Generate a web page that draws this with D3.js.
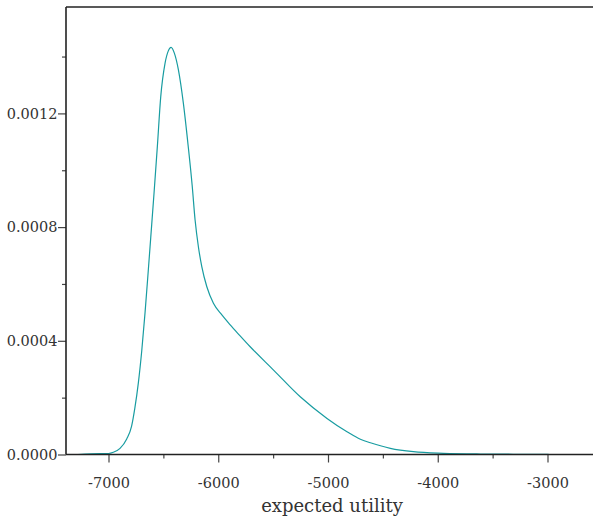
<!DOCTYPE html>
<html><head><meta charset="utf-8">
<script src="https://cdn.jsdelivr.net/npm/d3@7/dist/d3.min.js"></script>
<style>
html,body{margin:0;padding:0;background:#fff;}
text{font-family:"DejaVu Serif",serif;fill:#333;}
</style></head>
<body>
<svg id="c" width="593" height="520"></svg>
<script>
const utility = [-7278,-7078,-7000,-6956,-6895,-6834,-6790,-6760,-6728,-6697,-6667,-6637,-6615,-6585,-6555,-6524,-6485,-6455,-6430,-6400,-6363,-6318,-6275,-6238,-6211,-6181,-6150,-6104,-6044,-5967,-5891,-5807,-5709,-5496,-5253,-5009,-4827,-4705,-4614,-4432,-4222,-3948,-3611,-2990];
const density = [0,0.000003,0.0000035,0.0000077,0.0000218,0.0000549,0.0000989,0.000163,0.000252,0.000365,0.000499,0.000650,0.000764,0.000920,0.001083,0.001259,0.001376,0.001420,0.001432,0.001412,0.001353,0.001236,0.001089,0.000948,0.000825,0.000731,0.000661,0.000590,0.000532,0.000491,0.000456,0.000420,0.000379,0.000297,0.000203,0.000127,0.00008,0.0000535,0.0000415,0.0000218,0.0000099,0.0000042,0.0000018,0.0000005];
const xMajor = [-7000,-6000,-5000,-4000,-3000];
const xMinor = [-6500,-5500,-4500,-3500];
const yMajor = [0,0.0004,0.0008,0.0012];
const yMinor = [0.0002,0.0006,0.0010,0.0014];

const svg = d3.select("#c");
const mLeft = 66, mTop = 7, mBottom = 454.5, mRight = 593;
const x = d3.scaleLinear().domain([-7000,-3000]).range([108.5,547.5]);
const y = d3.scaleLinear().domain([0,0.0004]).range([mBottom, mBottom-113.7]);

// curve
const line = d3.line().x((d,i)=>x(utility[i])).y((d,i)=>y(density[i])).curve(d3.curveMonotoneX);
svg.append("path").datum(density).attr("d",line).attr("fill","none")
  .attr("stroke","#189ca1").attr("stroke-width",1.2);

// axes
const xAxis = d3.axisBottom(x).tickValues(xMajor).tickSize(8).tickSizeOuter(0).tickFormat(d3.format("d"));
const gx = svg.append("g").attr("transform",`translate(0,${mBottom})`).call(xAxis);
gx.select(".domain").remove();
gx.selectAll("line").attr("stroke","#444").attr("stroke-width",1.2);
gx.selectAll("text").attr("dy","1.55em").style("font-size","14.5px").style("font-family","'DejaVu Serif',serif").attr("fill","#333").text(d=>String(d));
const gxm = svg.append("g").attr("transform",`translate(0,${mBottom})`)
  .call(d3.axisBottom(x).tickValues(xMinor).tickSize(4).tickFormat(""));
gxm.select(".domain").remove();
gxm.selectAll("line").attr("stroke","#444").attr("stroke-width",1.2);

const yAxis = d3.axisLeft(y).tickValues(yMajor).tickSize(8).tickFormat(d3.format(".4f"));
const gy = svg.append("g").attr("transform",`translate(${mLeft},0)`).call(yAxis);
gy.select(".domain").remove();
gy.selectAll("line").attr("stroke","#444").attr("stroke-width",1.2);
gy.selectAll("text").attr("x",-8.5).style("font-size","14.5px").style("font-family","'DejaVu Serif',serif").attr("fill","#333");
const gym = svg.append("g").attr("transform",`translate(${mLeft},0)`)
  .call(d3.axisLeft(y).tickValues(yMinor).tickSize(4).tickFormat(""));
gym.select(".domain").remove();
gym.selectAll("line").attr("stroke","#444").attr("stroke-width",1.2);

// frame lines
svg.append("line").attr("x1",mLeft).attr("x2",mRight).attr("y1",mBottom).attr("y2",mBottom).attr("stroke","#222").attr("stroke-width",1.6);
svg.append("line").attr("x1",mLeft).attr("x2",mRight).attr("y1",mTop).attr("y2",mTop).attr("stroke","#222").attr("stroke-width",1.6);
svg.append("line").attr("x1",mLeft).attr("x2",mLeft).attr("y1",mTop).attr("y2",mBottom).attr("stroke","#222").attr("stroke-width",1.6);

svg.append("text").attr("x",332).attr("y",512).attr("text-anchor","middle")
  .style("font-size","18px").text("expected utility");
</script>
</body></html>
